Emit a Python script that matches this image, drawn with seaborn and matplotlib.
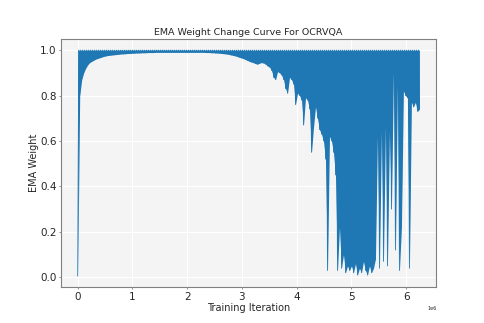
import numpy as np
import matplotlib
matplotlib.use("Agg")
import matplotlib.pyplot as plt
import seaborn as sns

# EMA weight oscillates every logging step between a crest near 1.0 and a trough.
# troughs, one per logging step
log_step = 36500  # iterations between logged troughs
crest = 1.0
troughs = [
    0.005, 0.80, 0.87, 0.90, 0.92, 0.935, 0.945, 0.95, 0.955, 0.96,
    0.963, 0.966, 0.969, 0.972, 0.974, 0.976, 0.977, 0.978, 0.979, 0.98,
    0.981, 0.982, 0.983, 0.983, 0.984, 0.985, 0.985, 0.986, 0.986, 0.987,
    0.987, 0.987,
    0.988, 0.988, 0.988, 0.989, 0.989, 0.989, 0.989, 0.99, 0.99, 0.99,
    0.99, 0.99, 0.99, 0.99, 0.99, 0.99, 0.99, 0.99, 0.99, 0.99,
    0.99, 0.99, 0.99, 0.99, 0.99, 0.99, 0.99, 0.99, 0.99, 0.99,
    0.99, 0.99, 0.989, 0.989, 0.989, 0.988, 0.988, 0.987, 0.987, 0.986,
    0.985, 0.984, 0.983, 0.982, 0.98, 0.978, 0.976, 0.974, 0.971, 0.968,
    0.965, 0.962, 0.958, 0.954, 0.95, 0.947, 0.944, 0.94, 0.938, 0.942,
    0.945, 0.943, 0.938, 0.93, 0.925, 0.91, 0.88, 0.87, 0.905, 0.90,
    0.89, 0.87, 0.83, 0.81, 0.88, 0.87, 0.85, 0.76, 0.81, 0.80,
    0.78, 0.67, 0.79, 0.78, 0.74, 0.55, 0.66, 0.75, 0.70, 0.65,
    0.63, 0.60, 0.52, 0.03, 0.62, 0.60, 0.55, 0.45, 0.03, 0.22,
    0.04, 0.10, 0.02, 0.05,
    0.03, 0.05, 0.02, 0.06, 0.01, 0.04, 0.02, 0.07, 0.03, 0.01,
    0.05, 0.02, 0.04, 0.08,
    0.62, 0.04, 0.64, 0.07, 0.66, 0.05, 0.64, 0.30, 0.90, 0.12,
    0.84, 0.03, 0.22, 0.82, 0.80, 0.79, 0.04, 0.77, 0.75, 0.77,
    0.73, 0.74,
]

trough_iters = [i * log_step for i in range(len(troughs))]
iters = []
weights = []
for i, t in enumerate(troughs):
    if i > 0:
        iters.append(trough_iters[i] - log_step / 2)
        weights.append(crest)
    iters.append(trough_iters[i])
    weights.append(t)

sns.set_style("whitegrid", {
    "axes.facecolor": "#f4f4f4",
    "axes.edgecolor": "#808080",
    "grid.color": "white",
    "xtick.bottom": True,
    "ytick.left": True,
})
plt.rcParams["path.simplify"] = False

fig, ax = plt.subplots(figsize=(4.85, 3.23), dpi=100)
# the oscillation is far denser than a pixel, so the band between troughs and crest reads as solid
ax.fill_between(trough_iters, troughs, crest, color="#1f77b4", linewidth=0)
sns.lineplot(x=iters, y=weights, ax=ax, color="#1f77b4", linewidth=0.6)

ax.set_title("EMA Weight Change Curve For OCRVQA", fontsize=6.8, pad=2.5)
ax.set_xlabel("Training Iteration", fontsize=7, labelpad=1)
ax.set_ylabel("EMA Weight", fontsize=7, labelpad=1)
ax.tick_params(labelsize=7.5, length=1.5, width=0.6, pad=1.5, color="#808080")
ax.xaxis.get_offset_text().set_fontsize(3.5)
for s in ax.spines.values():
    s.set_linewidth(0.8)
ax.grid(True, color="white", linewidth=0.8)

fig.savefig("out.png", dpi=100)
